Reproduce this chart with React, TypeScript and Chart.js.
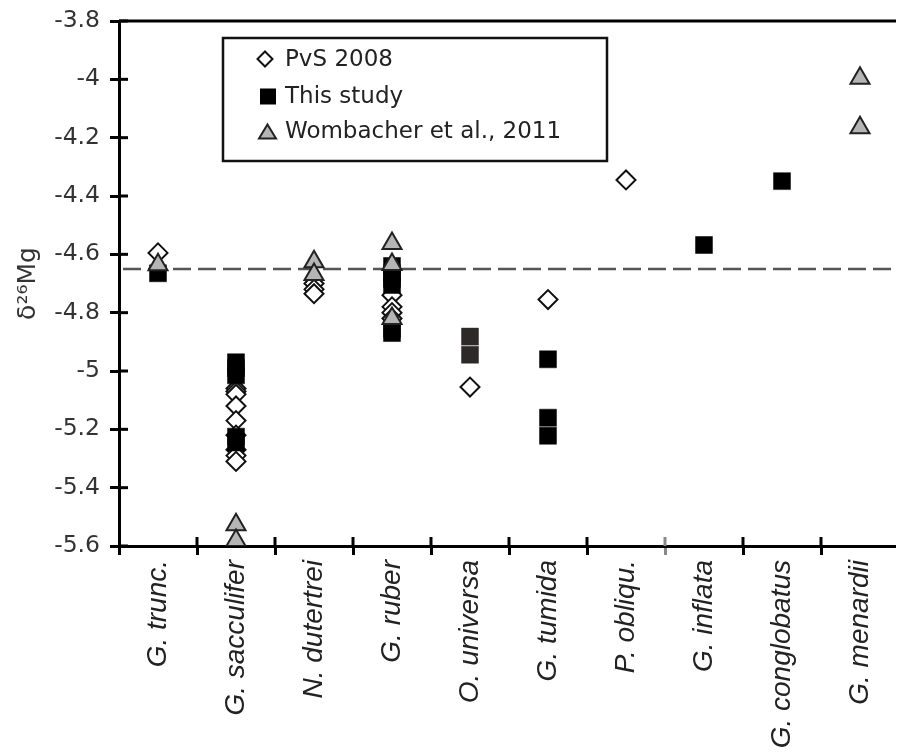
import React, { useEffect, useRef } from 'react';
import { Chart, registerables } from 'chart.js';

Chart.register(...registerables);

const categories = [
  'G. trunc.',
  'G. sacculifer',
  'N. dutertrei',
  'G. ruber',
  'O. universa',
  'G. tumida',
  'P. obliqu.',
  'G. inflata',
  'G. conglobatus',
  'G. menardii',
];

const yTicks = [-5.6, -5.4, -5.2, -5, -4.8, -4.6, -4.4, -4.2, -4, -3.8];

// values per category (same order as categories)
const pvs2008: number[][] = [
  [-4.595],
  [-5.06, -5.07, -5.08, -5.12, -5.17, -5.22, -5.27, -5.29, -5.31],
  [-4.7, -4.72, -4.735],
  [-4.74, -4.78, -4.8, -4.82],
  [-5.055],
  [-4.755],
  [-4.345],
  [],
  [],
  [],
];

const thisStudy: number[][] = [
  [-4.665],
  [-4.97, -4.99, -5.015, -5.225, -5.245],
  [],
  [-4.64, -4.665, -4.685, -4.705, -4.855, -4.87],
  [-4.882, -4.944],
  [-4.96, -5.16, -5.222],
  [],
  [-4.568],
  [-4.349],
  [],
];

const wombacher2011: number[][] = [
  [-4.636],
  [-5.527, -5.581],
  [-4.625, -4.669],
  [-4.563, -4.635, -4.82],
  [],
  [],
  [],
  [],
  [],
  [-3.996, -4.166],
];

const referenceLine = -4.65;

const seriesNames = ['PvS 2008', 'This study', 'Wombacher et al., 2011'];

const toPoints = (arr: number[][]) =>
  arr.flatMap((vals, i) => vals.map((y) => ({ x: categories[i], y })));

const extrasPlugin = {
  id: 'extras',
  beforeDatasetsDraw(chart: any) {
    const { ctx, chartArea } = chart;
    const xs = chart.scales.x;
    const ys = chart.scales.y;
    ctx.save();
    // dashed reference line
    const py = ys.getPixelForValue(referenceLine);
    ctx.strokeStyle = '#555';
    ctx.lineWidth = 2.5;
    ctx.setLineDash([18, 7]);
    ctx.beginPath();
    ctx.moveTo(chartArea.left + 4, py);
    ctx.lineTo(chart.width, py);
    ctx.stroke();
    ctx.setLineDash([]);
    // top border
    ctx.strokeStyle = '#000';
    ctx.lineWidth = 3;
    ctx.beginPath();
    ctx.moveTo(chartArea.left, chartArea.top);
    ctx.lineTo(chart.width, chartArea.top);
    ctx.stroke();
    // inner ticks on y
    ys.ticks.forEach((t: any) => {
      const p = ys.getPixelForValue(t.value);
      ctx.beginPath();
      ctx.moveTo(chartArea.left, p);
      ctx.lineTo(chartArea.left + 9, p);
      ctx.stroke();
    });
    // inner ticks on x (category boundaries)
    for (let i = 1; i < categories.length; i++) {
      const p = xs.getPixelForValue(i - 0.5);
      ctx.strokeStyle = i === 7 ? '#888' : '#000';
      ctx.beginPath();
      ctx.moveTo(p, chartArea.bottom);
      ctx.lineTo(p, chartArea.bottom - 9);
      ctx.stroke();
    }
    ctx.restore();
  },
  afterDraw(chart: any) {
    const { ctx, chartArea } = chart;
    const bx = chartArea.left + 104;
    const by = chartArea.top + 17;
    const bw = 384;
    const bh = 123;
    ctx.save();
    ctx.fillStyle = '#fff';
    ctx.fillRect(bx, by, bw, bh);
    ctx.strokeStyle = '#111';
    ctx.lineWidth = 2.5;
    ctx.strokeRect(bx, by, bw, bh);
    const rows = [21, 58.5, 93.5];
    // diamond
    let cx = bx + 42;
    let cy = by + rows[0];
    ctx.beginPath();
    ctx.moveTo(cx, cy - 7.5);
    ctx.lineTo(cx + 7.5, cy);
    ctx.lineTo(cx, cy + 7.5);
    ctx.lineTo(cx - 7.5, cy);
    ctx.closePath();
    ctx.fillStyle = '#fff';
    ctx.fill();
    ctx.lineWidth = 2;
    ctx.strokeStyle = '#111';
    ctx.stroke();
    // square
    cx = bx + 45;
    cy = by + rows[1];
    ctx.fillStyle = '#000';
    ctx.fillRect(cx - 8, cy - 8, 16, 16);
    // triangle
    cx = bx + 44.5;
    cy = by + rows[2];
    ctx.beginPath();
    ctx.moveTo(cx, cy - 7);
    ctx.lineTo(cx + 8.5, cy + 7);
    ctx.lineTo(cx - 8.5, cy + 7);
    ctx.closePath();
    ctx.fillStyle = '#b5b5b5';
    ctx.fill();
    ctx.strokeStyle = '#222';
    ctx.lineWidth = 2;
    ctx.stroke();
    // texts
    ctx.fillStyle = '#222';
    ctx.font = '23px "DejaVu Sans"';
    ctx.textBaseline = 'middle';
    ctx.textAlign = 'left';
    seriesNames.forEach((n, i) => {
      ctx.fillText(n, bx + 62, by + rows[i] + 1);
    });
    ctx.restore();
  },
};

export default function App() {
  const ref = useRef<HTMLCanvasElement>(null);
  useEffect(() => {
    const chart = new Chart(ref.current as HTMLCanvasElement, {
      type: 'scatter',
      data: {
        labels: categories,
        datasets: [
          {
            label: seriesNames[0],
            data: toPoints(pvs2008),
            pointStyle: 'rectRot',
            pointRadius: 9.5,
            pointBackgroundColor: '#fff',
            pointBorderColor: '#111',
            pointBorderWidth: 2,
            order: 2,
          },
          {
            label: seriesNames[1],
            data: toPoints(thisStudy),
            pointStyle: 'rect',
            pointRadius: 12,
            pointBackgroundColor: (c: any) =>
              c.raw && c.raw.x === 'O. universa' ? '#2e2929' : '#000',
            pointBorderColor: (c: any) =>
              c.raw && c.raw.x === 'O. universa' ? '#2e2929' : '#000',
            pointBorderWidth: 0.5,
            order: 1,
          },
          {
            label: seriesNames[2],
            data: toPoints(wombacher2011),
            pointStyle: 'triangle',
            pointRadius: 11,
            pointBackgroundColor: '#b5b5b5',
            pointBorderColor: '#222',
            pointBorderWidth: 2,
            order: 0,
          },
        ] as any,
      },
      options: {
        animation: false,
        responsive: false,
        events: [],
        layout: { padding: { top: 9, right: 1, left: 0, bottom: 0 } },
        plugins: {
          legend: { display: false },
          tooltip: { enabled: false },
        },
        scales: {
          x: {
            type: 'category',
            labels: categories,
            offset: true,
            afterFit: (s: any) => {
              s.height = 207;
              s.paddingLeft = 0;
              s.paddingRight = 0;
            },
            grid: {
              offset: true,
              drawOnChartArea: false,
              tickLength: 9,
              tickWidth: 3,
              color: (c: any) => (c.index === 7 ? '#888' : '#000'),
            },
            border: { display: true, width: 3, color: '#000' },
            ticks: {
              autoSkip: false,
              maxRotation: 90,
              minRotation: 90,
              padding: 5,
              color: '#222',
              font: { family: 'Liberation Sans', size: 28, style: 'italic' },
            },
          },
          y: {
            type: 'linear',
            min: yTicks[0],
            max: yTicks[yTicks.length - 1],
            afterFit: (s: any) => {
              s.width = 111;
              s.paddingTop = 0;
              s.paddingBottom = 0;
            },
            afterBuildTicks: (s: any) => {
              s.ticks = yTicks.map((v) => ({ value: v }));
            },
            grid: {
              drawOnChartArea: false,
              tickLength: 9,
              tickWidth: 3,
              color: '#000',
            },
            border: { display: true, width: 3, color: '#000' },
            ticks: {
              padding: 10,
              color: '#333',
              font: { family: 'DejaVu Sans', size: 23.5 },
              callback: (v: any) => String(Math.round(Number(v) * 10) / 10),
            },
            title: {
              display: true,
              text: 'δ²⁶Mg',
              color: '#333',
              font: { family: 'DejaVu Sans', size: 25 },
              padding: { top: 5, bottom: 0 },
            },
          },
        },
      },
      plugins: [extrasPlugin],
    });
    return () => chart.destroy();
  }, []);
  return (
    <div style={{ width: 896, height: 745, overflow: 'hidden' }}>
      <style>{'body{overflow:hidden}'}</style>
      <canvas ref={ref} width={904} height={745} style={{ display: 'block' }} />
    </div>
  );
}
